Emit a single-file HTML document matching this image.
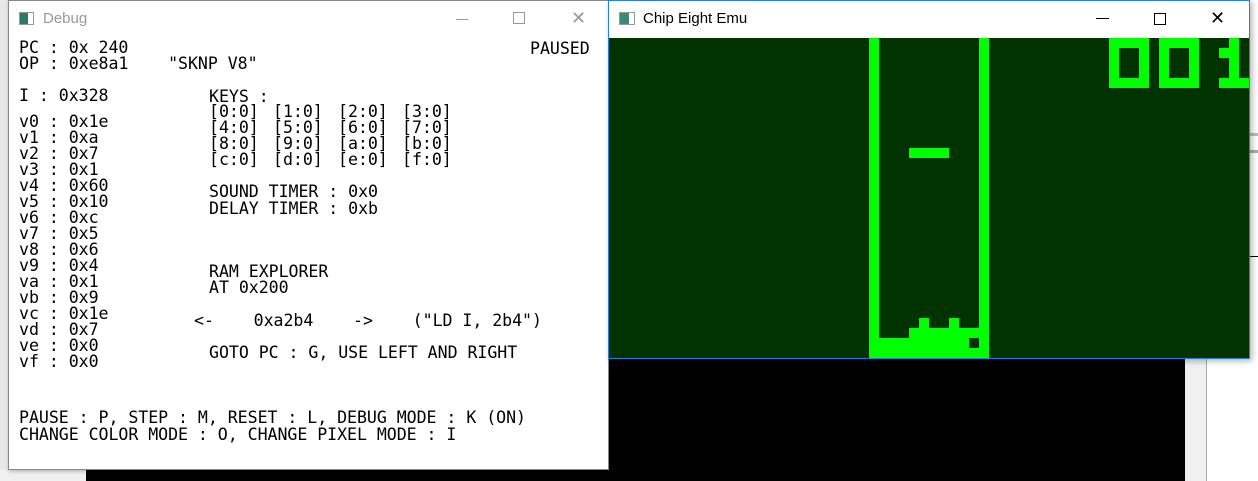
<!DOCTYPE html>
<html><head><meta charset="utf-8"><style>
*{margin:0;padding:0;box-sizing:border-box}
body{width:1258px;height:481px;overflow:hidden;position:relative;background:#fff;font-family:"DejaVu Sans Mono","Liberation Mono",monospace}
.a{position:absolute}
.t{position:absolute;font-size:16.6px;line-height:16px;white-space:pre;color:#000;letter-spacing:-0.05px}
.g{position:absolute;background:#00ff00}
.d{position:absolute;background:#003300}
.ttl{position:absolute;font-family:"Liberation Sans",sans-serif;font-size:15px}
</style></head><body>
<div class="a" style="left:0;top:0;width:8px;height:481px;background:#e8e8e8"></div>
<div class="a" style="left:0;top:470px;width:86px;height:11px;background:#f0f0f0"></div>
<div class="a" style="left:86px;top:358px;width:1099px;height:123px;background:#000"></div>
<div class="a" style="left:1185px;top:358px;width:21px;height:123px;background:#f0f0f0"></div>
<div class="a" style="left:1206px;top:358px;width:1px;height:123px;background:#aaa"></div>
<div class="a" style="left:1249px;top:150px;width:9px;height:3px;background:#aaa"></div>
<div class="a" style="left:1249px;top:133px;width:9px;height:3px;background:#bbb"></div>
<div class="a" style="left:1249px;top:256px;width:9px;height:1px;background:#000"></div>

<div class="a" style="left:8px;top:0;width:601px;height:470px;background:#fff;border:1px solid #888;box-shadow:1px 1px 4px rgba(0,0,0,.3)"></div>
<div class="a" style="left:19px;top:12px;width:15px;height:13px;border:1px solid #999;background:linear-gradient(90deg,#2a7a6a 60%,#fff 60%)"></div>
<div class="ttl" style="left:43px;top:10px;color:#999">Debug</div>
<div class="a" style="left:456px;top:19px;width:12px;height:1px;background:#999"></div>
<div class="a" style="left:513px;top:12px;width:12px;height:12px;border:1px solid #999"></div>
<div class="ttl" style="left:571px;top:8px;color:#999;font-size:18px">✕</div>

<div class="t" style="left:19px;top:40px">PC : 0x 240</div>
<div class="t" style="left:530px;top:41px">PAUSED</div>
<div class="t" style="left:19px;top:56px">OP : 0xe8a1    "SKNP V8"</div>
<div class="t" style="left:19px;top:88px">I : 0x328</div>
<div class="t" style="left:19px;top:114px">v0 : 0x1e
v1 : 0xa
v2 : 0x7
v3 : 0x1
v4 : 0x60
v5 : 0x10
v6 : 0xc
v7 : 0x5
v8 : 0x6
v9 : 0x4
va : 0x1
vb : 0x9
vc : 0x1e
vd : 0x7
ve : 0x0
vf : 0x0</div>
<div class="t" style="left:209px;top:89px">KEYS :</div>
<div class="t" style="left:209px;top:104px">[0:0]
[4:0]
[8:0]
[c:0]</div>
<div class="t" style="left:273px;top:104px">[1:0]
[5:0]
[9:0]
[d:0]</div>
<div class="t" style="left:338px;top:104px">[2:0]
[6:0]
[a:0]
[e:0]</div>
<div class="t" style="left:402px;top:104px">[3:0]
[7:0]
[b:0]
[f:0]</div>
<div class="t" style="left:209px;top:184px">SOUND TIMER : 0x0</div>
<div class="t" style="left:209px;top:201px">DELAY TIMER : 0xb</div>
<div class="t" style="left:209px;top:264px">RAM EXPLORER</div>
<div class="t" style="left:209px;top:280px">AT 0x200</div>
<div class="t" style="left:194px;top:313px">&lt;-    0xa2b4    -&gt;    ("LD I, 2b4")</div>
<div class="t" style="left:209px;top:345px">GOTO PC : G, USE LEFT AND RIGHT</div>
<div class="t" style="left:19px;top:410px">PAUSE : P, STEP : M, RESET : L, DEBUG MODE : K (ON)</div>
<div class="t" style="left:19px;top:427px">CHANGE COLOR MODE : O, CHANGE PIXEL MODE : I</div>

<div class="a" style="left:608px;top:0;width:642px;height:359px;background:#fff;border:1px solid #2b7fd8;box-shadow:2px 2px 6px rgba(0,0,0,.3)"></div>
<div class="a" style="left:619px;top:12px;width:16px;height:13px;border:1px solid #999;background:linear-gradient(90deg,#3a8a7a 65%,#fff 65%)"></div>
<div class="ttl" style="left:643px;top:10px;color:#000">Chip Eight Emu</div>
<div class="a" style="left:1096px;top:18px;width:13px;height:1px;background:#000"></div>
<div class="a" style="left:1154px;top:13px;width:12px;height:12px;border:1px solid #000"></div>
<div class="ttl" style="left:1210px;top:8px;color:#000;font-size:18px">✕</div>
<div class="d" style="left:609px;top:38px;width:640px;height:320px"></div>
<div class="g" style="left:869px;top:38px;width:10px;height:320px"></div>
<div class="g" style="left:979px;top:38px;width:10px;height:320px"></div>
<div class="g" style="left:869px;top:338px;width:120px;height:20px"></div>
<div class="g" style="left:909px;top:328px;width:70px;height:10px"></div>
<div class="g" style="left:919px;top:318px;width:10px;height:10px"></div>
<div class="g" style="left:949px;top:318px;width:10px;height:10px"></div>
<div class="d" style="left:969px;top:338px;width:10px;height:10px"></div>
<div class="g" style="left:909px;top:148px;width:40px;height:10px"></div>
<div class="g" style="left:1109px;top:38px;width:40px;height:50px"></div>
<div class="d" style="left:1119px;top:48px;width:20px;height:30px"></div>
<div class="g" style="left:1159px;top:38px;width:40px;height:50px"></div>
<div class="d" style="left:1169px;top:48px;width:20px;height:30px"></div>
<div class="g" style="left:1229px;top:38px;width:10px;height:50px"></div>
<div class="g" style="left:1219px;top:48px;width:10px;height:10px"></div>
<div class="g" style="left:1219px;top:78px;width:30px;height:10px"></div>
</body></html>
